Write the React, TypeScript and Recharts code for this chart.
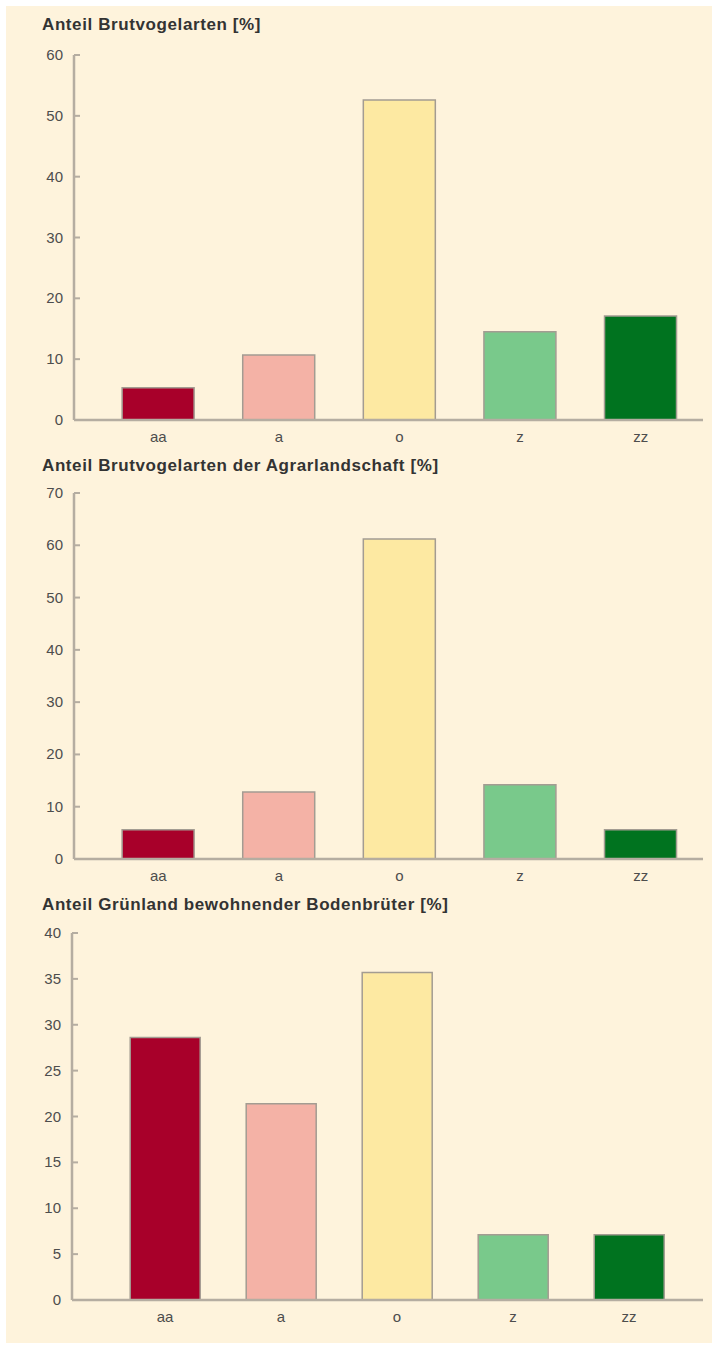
import { BarChart, Bar, XAxis, YAxis, Cell } from "recharts";

const CATEGORIES = ["aa", "a", "o", "z", "zz"];
const COLORS = ["#a8002a", "#f4b2a6", "#fde9a2", "#79c98b", "#00731f"];

const BRUTVOGEL = [5.3, 10.7, 52.6, 14.5, 17.1];
const AGRAR = [5.6, 12.8, 61.2, 14.2, 5.6];
const GRUENLAND = [28.6, 21.4, 35.7, 7.1, 7.1];

const TICKS_BRUTVOGEL = [0, 10, 20, 30, 40, 50, 60];
const TICKS_AGRAR = [0, 10, 20, 30, 40, 50, 60, 70];
const TICKS_GRUENLAND = [0, 5, 10, 15, 20, 25, 30, 35, 40];

const AXIS = "#b5ada1";
const FONT = "'Liberation Sans', Arial, sans-serif";

const YTick = (props: any) => {
  const { x, y, payload } = props;
  return (
    <g>
      <text x={x} y={y} dy={5} textAnchor="end" fill="#4d4d4d" fontSize={15} fontFamily={FONT}>
        {payload.value}
      </text>
      <line x1={x + 11} x2={x + 17} y1={y} y2={y} stroke={AXIS} strokeWidth={2} />
    </g>
  );
};

function Panel({ title, values, ticks, top, titleTop, plotH, axisX, padL, padR }: any) {
  const data = CATEGORIES.map((c, i) => ({ cat: c, value: values[i] }));
  const max = ticks[ticks.length - 1];
  return (
    <>
      <div
        style={{
          position: "absolute", left: 36, top: titleTop, fontFamily: FONT, fontWeight: "bold",
          fontSize: 17, letterSpacing: "0.6px", color: "#333", lineHeight: "18px", whiteSpace: "nowrap",
        }}
      >
        {title}
      </div>
      <div style={{ position: "absolute", left: 0, top }}>
        <BarChart
          width={706}
          height={plotH + 40}
          data={data}
          margin={{ top: 10, right: 706 - 697, left: 0, bottom: 0 }}
          barCategoryGap="20%"
        >
          <XAxis
            dataKey="cat"
            height={30}
            padding={{ left: padL, right: padR }}
            axisLine={{ stroke: AXIS, strokeWidth: 2.5 }}
            tickLine={false}
            tickSize={0}
            tickMargin={11}
            tick={{ fill: "#4d4d4d", fontSize: 15, fontFamily: FONT }}
          />
          <YAxis
            width={axisX}
            domain={[0, max]}
            ticks={ticks}
            interval={0}
            axisLine={{ stroke: AXIS, strokeWidth: 2.5 }}
            tickLine={false}
            tickSize={0}
            tickMargin={11}
            tick={<YTick />}
          />
          <Bar dataKey="value" stroke="#a39c92" strokeWidth={1.5} isAnimationActive={false}>
            {data.map((d, i) => (
              <Cell key={d.cat} fill={COLORS[i]} />
            ))}
          </Bar>
        </BarChart>
      </div>
    </>
  );
}

export default function App() {
  return (
    <div
      style={{
        position: "absolute", left: 6, top: 6, width: 706, height: 1337,
        background: "#fef3dc",
      }}
    >
      <Panel title="Anteil Brutvogelarten [%]" values={BRUTVOGEL} ticks={TICKS_BRUTVOGEL}
        titleTop={10} top={55 - 6 - 10} plotH={365} axisX={68} padL={24} padR={2} />
      <Panel title="Anteil Brutvogelarten der Agrarlandschaft [%]" values={AGRAR} ticks={TICKS_AGRAR}
        titleTop={451} top={493 - 6 - 10} plotH={366} axisX={68} padL={24} padR={2} />
      <Panel title="Anteil Grünland bewohnender Bodenbrüter [%]" values={GRUENLAND} ticks={TICKS_GRUENLAND}
        titleTop={890} top={933 - 6 - 10} plotH={367} axisX={66} padL={35} padR={16} />
    </div>
  );
}
